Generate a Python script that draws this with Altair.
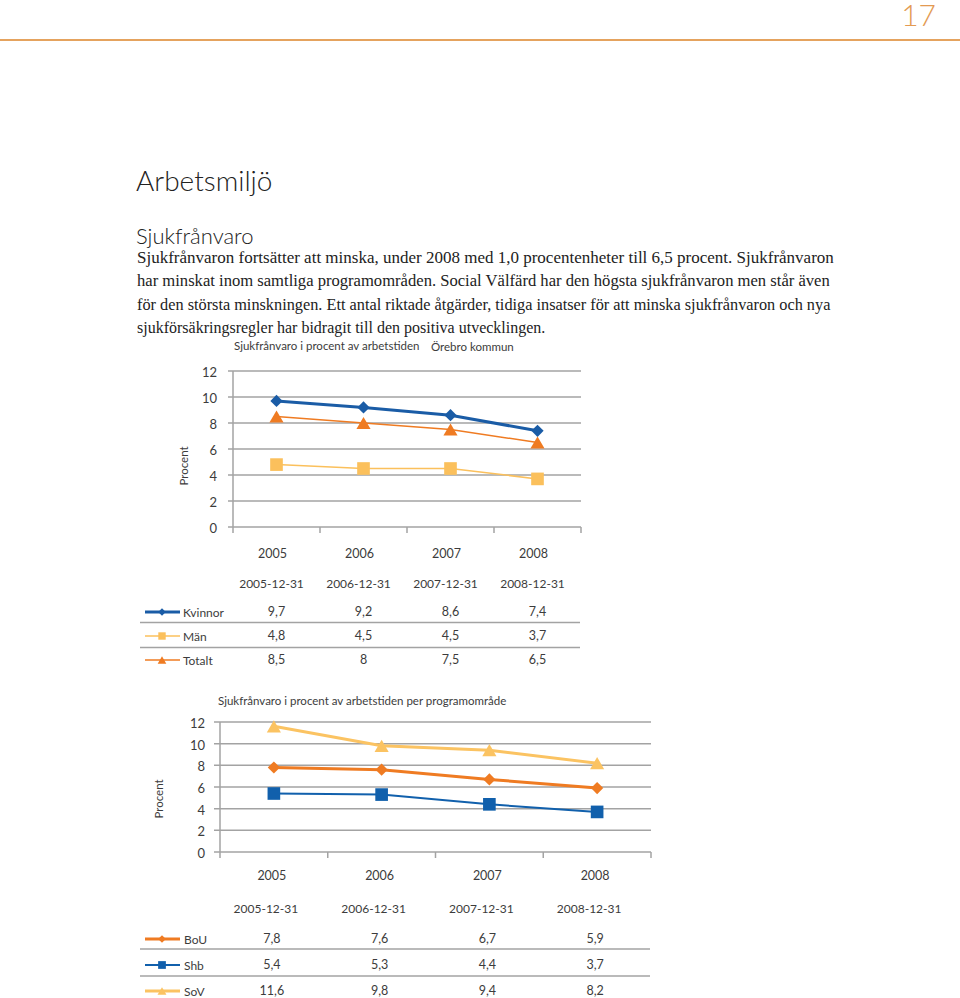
import altair as alt
import pandas as pd

# ---------------- data ----------------
years = [2005, 2006, 2007, 2008]
year_labels = ["2005", "2006", "2007", "2008"]
date_labels = ["2005-12-31", "2006-12-31", "2007-12-31", "2008-12-31"]

kvinnor = [9.7, 9.2, 8.6, 7.4]
man = [4.8, 4.5, 4.5, 3.7]
totalt = [8.5, 8.0, 7.5, 6.5]

bou = [7.8, 7.6, 6.7, 5.9]
shb = [5.4, 5.3, 4.4, 3.7]
sov = [11.6, 9.8, 9.4, 8.2]

y_ticks = [0, 2, 4, 6, 8, 10, 12]
x_bounds = [2004.5, 2005.5, 2006.5, 2007.5, 2008.5]

page_number = "17"
page_title = "Arbetsmiljö"
section_title = "Sjukfrånvaro"
body_lines = [
    "Sjukfrånvaron fortsätter att minska, under 2008 med 1,0 procentenheter till 6,5 procent. Sjukfrånvaron",
    "har minskat inom samtliga programområden. Social Välfärd har den högsta sjukfrånvaron men står även",
    "för den största minskningen. Ett antal riktade åtgärder, tidiga insatser för att minska sjukfrånvaron och nya",
    "sjukförsäkringsregler har bidragit till den positiva utvecklingen.",
]
chart1_title = "Sjukfrånvaro i procent av arbetstiden"
chart1_sub = "Örebro kommun"
chart2_title = "Sjukfrånvaro i procent av arbetstiden per programområde"
y_title = "Procent"

SANS = "Lato"
SERIF = "Liberation Serif"
TXT = "#3c3c3c"
GRID = "#a3a3a3"

BLUE = "#1a5ca6"
LIGHT = "#fbc05c"
ORANGE = "#ef7b22"


def fmt(v):
    return f"{v:g}".replace(".", ",")


def text_layer(s, x, y, size, font=SANS, align="left", baseline="middle",
               color=TXT, angle=None, weight=None):
    kw = dict(align=align, baseline=baseline, fontSize=size, font=font, color=color)
    if angle is not None:
        kw["angle"] = angle
    if weight is not None:
        kw["fontWeight"] = weight
    return alt.Chart(pd.DataFrame({"t": [s]})).mark_text(**kw).encode(
        x=alt.value(x), y=alt.value(y), text="t:N"
    )


layers = []

# ---------------- page header ----------------
layers.append(text_layer(page_number, 936, 17, 30, align="right", baseline="middle",
                         color="#e39a52", weight=300))
layers.append(
    alt.Chart(pd.DataFrame({"a": [0]})).mark_rule(color="#e5a35e", strokeWidth=2).encode(
        x=alt.value(0), x2=alt.value(960), y=alt.value(40)
    )
)
layers.append(text_layer(page_title, 136, 191, 28, baseline="alphabetic", color="#222222", weight=300))
layers.append(text_layer(section_title, 136, 244, 22, baseline="alphabetic", color="#222222", weight=300))
body_sizes = [17.0, 16.6, 16.3, 16.0]
for i, line in enumerate(body_lines):
    layers.append(text_layer(line, 137, 258 + 23.3 * i, body_sizes[i], font=SERIF, color="#222222"))


# ---------------- panel builder ----------------
def panel(sx, sy, axis_x, grid_x0, grid_x1, y_label_x, procent_x, procent_y,
          series, year_y, date_y, year_dx, date_dx, val_dx, rows_y, sep_y,
          sep_x0, sep_x1, leg_x0, leg_x1, leg_mx, leg_lx):
    out = []
    # gridlines
    out.append(
        alt.Chart(pd.DataFrame({"v": y_ticks})).mark_rule(color=GRID, strokeWidth=1.5).encode(
            y=alt.Y("v:Q", scale=sy, axis=None), x=alt.value(grid_x0), x2=alt.value(grid_x1)
        )
    )
    # vertical axis line
    out.append(
        alt.Chart(pd.DataFrame({"b": [x_bounds[0]], "lo": [y_ticks[0]], "hi": [y_ticks[-1]]}))
        .mark_rule(color=GRID, strokeWidth=1.5)
        .encode(x=alt.X("b:Q", scale=sx, axis=None), y=alt.Y("lo:Q", scale=sy, axis=None), y2="hi:Q")
    )
    # bottom category ticks
    out.append(
        alt.Chart(pd.DataFrame({"b": x_bounds, "lo": [0] * len(x_bounds)}))
        .mark_rule(color=GRID, strokeWidth=1.5)
        .encode(x=alt.X("b:Q", scale=sx, axis=None), y=alt.Y("lo:Q", scale=sy, axis=None),
                y2=alt.value(sy.range[0] + 6))
    )
    # y tick labels
    out.append(
        alt.Chart(pd.DataFrame({"v": y_ticks, "s": [str(v) for v in y_ticks]}))
        .mark_text(align="right", baseline="middle", fontSize=13, font=SANS, color=TXT, dy=2)
        .encode(y=alt.Y("v:Q", scale=sy, axis=None), x=alt.value(y_label_x), text="s:N")
    )
    out.append(text_layer(y_title, procent_x, procent_y, 11.5, angle=270, align="center"))
    # lines + markers
    for name, vals, color, shape, lw, msize, lsize in series:
        df = pd.DataFrame({"year": years, "value": vals})
        base = alt.Chart(df).encode(
            x=alt.X("year:Q", scale=sx, axis=None), y=alt.Y("value:Q", scale=sy, axis=None)
        )
        out.append(base.mark_line(color=color, strokeWidth=lw))
        out.append(base.mark_point(shape=shape, filled=True, size=msize, color=color, opacity=1))
    # table header rows
    out.append(
        alt.Chart(pd.DataFrame({"year": years, "s": year_labels}))
        .mark_text(align="center", baseline="middle", fontSize=12.5, font=SANS, color=TXT, dx=year_dx)
        .encode(x=alt.X("year:Q", scale=sx, axis=None), y=alt.value(year_y), text="s:N")
    )
    out.append(
        alt.Chart(pd.DataFrame({"year": years, "s": date_labels}))
        .mark_text(align="center", baseline="middle", fontSize=12, font=SANS, color=TXT, dx=date_dx)
        .encode(x=alt.X("year:Q", scale=sx, axis=None), y=alt.value(date_y), text="s:N")
    )
    # separators
    for sy_ in sep_y:
        out.append(
            alt.Chart(pd.DataFrame({"a": [0]})).mark_rule(color=GRID, strokeWidth=1.5).encode(
                x=alt.value(sep_x0), x2=alt.value(sep_x1), y=alt.value(sy_)
            )
        )
    # value rows with legend keys
    for (name, vals, color, shape, lw, msize, lsize), ry in zip(series, rows_y):
        out.append(
            alt.Chart(pd.DataFrame({"year": years, "s": [fmt(v) for v in vals]}))
            .mark_text(align="center", baseline="middle", fontSize=12.5, font=SANS, color=TXT, dx=val_dx)
            .encode(x=alt.X("year:Q", scale=sx, axis=None), y=alt.value(ry), text="s:N")
        )
        out.append(
            alt.Chart(pd.DataFrame({"a": [0]})).mark_rule(color=color, strokeWidth=lw).encode(
                x=alt.value(leg_x0), x2=alt.value(leg_x1), y=alt.value(ry)
            )
        )
        out.append(
            alt.Chart(pd.DataFrame({"a": [0]}))
            .mark_point(shape=shape, filled=True, size=lsize, color=color, opacity=1)
            .encode(x=alt.value(leg_mx), y=alt.value(ry))
        )
        out.append(text_layer(name, leg_lx, ry + 1, 12))
    return out


# ---------------- chart 1 ----------------
sx1 = alt.Scale(domain=[x_bounds[0], x_bounds[-1]], range=[233, 581], nice=False, zero=False)
sy1 = alt.Scale(domain=[0, 12], range=[527, 371], nice=False, zero=False)
layers.append(text_layer(chart1_title, 234, 347, 11.5))
layers.append(text_layer(chart1_sub, 431, 348, 11.5))
series1 = [
    ("Kvinnor", kvinnor, BLUE, "diamond", 3, 150, 55),
    ("Män", man, LIGHT, "square", 1.5, 160, 55),
    ("Totalt", totalt, ORANGE, "triangle-up", 1.5, 200, 75),
]
layers += panel(sx1, sy1, 233, 228, 581, 217, 185, 466, series1,
                554, 584, -4, -5, 0, [612, 636, 660], [622.5, 647.5],
                140, 580, 145, 180, 162, 183)

# ---------------- chart 2 ----------------
sx2 = alt.Scale(domain=[x_bounds[0], x_bounds[-1]], range=[220, 651], nice=False, zero=False)
sy2 = alt.Scale(domain=[0, 12], range=[852, 722], nice=False, zero=False)
layers.append(text_layer(chart2_title, 218, 702, 11.5))
series2 = [
    ("BoU", bou, ORANGE, "diamond", 3, 150, 60),
    ("Shb", shb, "#1160ac", "square", 2, 160, 60),
    ("SoV", sov, "#fbc362", "triangle-up", 3, 200, 80),
]
layers += panel(sx2, sy2, 220, 214, 651, 205, 160, 799, series2,
                876, 909, -2, -8, -2, [939, 965, 991], [949, 976],
                140, 650, 145, 180, 162, 184)

chart = (
    alt.layer(*layers)
    .resolve_scale(x="independent", y="independent")
    .properties(width=960, height=998, padding=0, autosize=alt.AutoSizeParams(type="none"),
                background="white")
    .configure_view(stroke=None)
)

chart.save("out.html", embed_options={"renderer": "svg", "actions": False})
